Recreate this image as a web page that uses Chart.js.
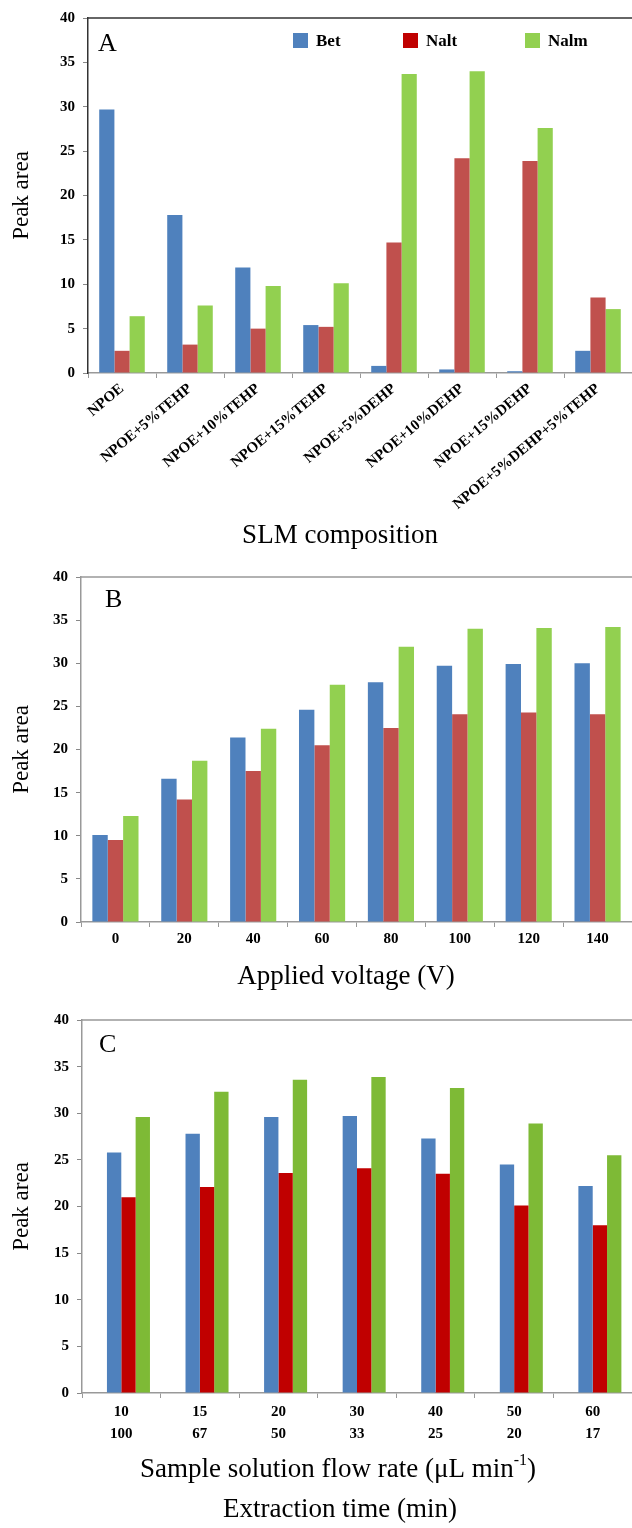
<!DOCTYPE html>
<html>
<head>
<meta charset="utf-8">
<script src="https://cdn.jsdelivr.net/npm/chart.js@4.4.1/dist/chart.umd.min.js"></script>
<style>
  body { margin: 0; background: #fff; }
  canvas { position: absolute; left: 0; }
</style>
</head>
<body>
<canvas id="panelA" width="632" height="560" style="top:0px"></canvas>
<canvas id="panelB" width="632" height="440" style="top:560px"></canvas>
<canvas id="panelC" width="632" height="528" style="top:1000px"></canvas>
<script>
// panel A - SLM composition
const slmGroups = ['NPOE', 'NPOE+5%TEHP', 'NPOE+10%TEHP', 'NPOE+15%TEHP', 'NPOE+5%DEHP', 'NPOE+10%DEHP', 'NPOE+15%DEHP', 'NPOE+5%DEHP+5%TEHP']
const betA = [29.7, 17.8, 11.9, 5.4, 0.8, 0.4, 0.2, 2.5]
const naltA = [2.5, 3.2, 5.0, 5.2, 14.7, 24.2, 23.9, 8.5]
const nalmA = [6.4, 7.6, 9.8, 10.1, 33.7, 34.0, 27.6, 7.2]

// panel B - applied voltage
const voltages = ['0', '20', '40', '60', '80', '100', '120', '140']
const betB = [10.1, 16.6, 21.4, 24.6, 27.8, 29.7, 29.9, 30.0]
const naltB = [9.5, 14.2, 17.5, 20.5, 22.5, 24.1, 24.3, 24.1]
const nalmB = [12.3, 18.7, 22.4, 27.5, 31.9, 34.0, 34.1, 34.2]

// panel C - flow rate / extraction time
const flowRates = ['10', '15', '20', '30', '40', '50', '60']
const extractTimes = ['100', '67', '50', '33', '25', '20', '17']
const betC = [25.8, 27.8, 29.6, 29.7, 27.3, 24.5, 22.2]
const naltC = [21.0, 22.1, 23.6, 24.1, 23.5, 20.1, 18.0]
const nalmC = [29.6, 32.3, 33.6, 33.9, 32.7, 28.9, 25.5]

const seriesNames = ['Bet', 'Nalt', 'Nalm']

const serif = '"Liberation Serif", "Times New Roman", serif'
Chart.defaults.font.family = serif
Chart.defaults.color = '#000'

const blue = '#4f81bd'
const paleRed = '#c0504d'
const deepRed = '#c00000'
const lightGreen = '#92d050'
const grassGreen = '#7eba36'

function drawTitle(ctx, t) {
  const main = '27px ' + serif
  const small = '16px ' + serif
  let total = 0
  t.parts.forEach(p => {
    ctx.font = p.sup ? small : main
    total += ctx.measureText(p.text).width
  })
  let x = t.x - total / 2
  ctx.textAlign = 'left'
  ctx.textBaseline = 'middle'
  t.parts.forEach(p => {
    ctx.font = p.sup ? small : main
    ctx.fillText(p.text, x, p.sup ? t.y - 9 : t.y)
    x += ctx.measureText(p.text).width
  })
}

const panelDecor = {
  id: 'panelDecor',
  afterDraw(chart, args, opts) {
    const ctx = chart.ctx
    const area = chart.chartArea
    ctx.save()
    ctx.strokeStyle = opts.frameColor
    ctx.lineWidth = 1.5
    ctx.beginPath()
    ctx.moveTo(area.left, area.top)
    ctx.lineTo(area.right, area.top)
    ctx.stroke()

    ctx.fillStyle = '#000'
    ctx.font = '26px ' + serif
    ctx.textAlign = 'left'
    ctx.textBaseline = 'alphabetic'
    ctx.fillText(opts.letter, opts.letterX, opts.letterY)

    opts.titles.forEach(t => drawTitle(ctx, t))

    if (opts.legendX) {
      ctx.textAlign = 'left'
      ctx.textBaseline = 'alphabetic'
      ctx.font = 'bold 17px ' + serif
      opts.legendX.forEach((x, i) => {
        ctx.fillStyle = opts.legendColors[i]
        ctx.fillRect(x, opts.legendY - 13, 15, 15)
        ctx.fillStyle = '#000'
        ctx.fillText(chart.data.datasets[i].label, x + 23, opts.legendY)
      })
    }
    ctx.restore()
  },
}

function yAxis(width, borderColor) {
  return {
    min: 0,
    max: 40,
    ticks: { stepSize: 5, padding: 8, font: { size: 15, weight: 'bold' } },
    grid: { drawOnChartArea: false, tickLength: 5, color: '#888' },
    border: { color: borderColor, width: 1.5 },
    title: { display: true, text: 'Peak area', font: { size: 23 }, padding: { top: 8, bottom: 0 } },
    afterFit: scale => { scale.width = width },
  }
}

function xAxis(height, ticks) {
  return {
    ticks: Object.assign({ autoSkip: false, font: { size: 15, weight: 'bold' } }, ticks),
    grid: { drawOnChartArea: false, tickLength: 5, color: '#999', offset: true },
    border: { color: '#999', width: 1.5 },
    afterFit: scale => {
      scale.height = height
      scale.paddingLeft = 0
      scale.paddingRight = 0
    },
  }
}

const groupAB = { borderWidth: 0, categoryPercentage: 0.67, barPercentage: 1.0 }
const groupC = { borderWidth: 0, categoryPercentage: 0.73, barPercentage: 1.0 }

const configA = {
  type: 'bar',
  data: {
    labels: slmGroups,
    datasets: [
      Object.assign({ label: seriesNames[0], data: betA, backgroundColor: blue }, groupAB),
      Object.assign({ label: seriesNames[1], data: naltA, backgroundColor: paleRed }, groupAB),
      Object.assign({ label: seriesNames[2], data: nalmA, backgroundColor: lightGreen }, groupAB),
    ],
  },
  options: {
    responsive: false,
    animation: false,
    layout: { padding: { top: 18, right: 0, bottom: 0, left: 0 } },
    plugins: {
      legend: { display: false },
      tooltip: { enabled: false },
      panelDecor: {
        frameColor: '#333',
        letter: 'A', letterX: 98, letterY: 51,
        titles: [{ x: 340, y: 536, parts: [{ text: 'SLM composition' }] }],
        legendX: [293, 403, 525], legendY: 46,
        legendColors: [blue, deepRed, lightGreen],
      },
    },
    scales: {
      x: xAxis(187, { minRotation: 40, maxRotation: 40, padding: 2 }),
      y: yAxis(88, '#333'),
    },
  },
  plugins: [panelDecor],
}

const configB = {
  type: 'bar',
  data: {
    labels: voltages,
    datasets: [
      Object.assign({ label: seriesNames[0], data: betB, backgroundColor: blue }, groupAB),
      Object.assign({ label: seriesNames[1], data: naltB, backgroundColor: paleRed }, groupAB),
      Object.assign({ label: seriesNames[2], data: nalmB, backgroundColor: lightGreen }, groupAB),
    ],
  },
  options: {
    responsive: false,
    animation: false,
    layout: { padding: { top: 17, right: 0, bottom: 0, left: 0 } },
    plugins: {
      legend: { display: false },
      tooltip: { enabled: false },
      panelDecor: {
        frameColor: '#999',
        letter: 'B', letterX: 105, letterY: 47,
        titles: [{ x: 346, y: 417, parts: [{ text: 'Applied voltage (V)' }] }],
      },
    },
    scales: {
      x: xAxis(78, { padding: 3 }),
      y: yAxis(81, '#999'),
    },
  },
  plugins: [panelDecor],
}

// first (empty) slot keeps the three bars right of the category centre, as in the figure
const configC = {
  type: 'bar',
  data: {
    labels: flowRates.map((f, i) => [f, extractTimes[i]]),
    datasets: [
      Object.assign({ label: '', data: flowRates.map(() => null), backgroundColor: 'rgba(0,0,0,0)' }, groupC),
      Object.assign({ label: seriesNames[0], data: betC, backgroundColor: blue }, groupC),
      Object.assign({ label: seriesNames[1], data: naltC, backgroundColor: deepRed }, groupC),
      Object.assign({ label: seriesNames[2], data: nalmC, backgroundColor: grassGreen }, groupC),
    ],
  },
  options: {
    responsive: false,
    animation: false,
    layout: { padding: { top: 20, right: 0, bottom: 0, left: 0 } },
    plugins: {
      legend: { display: false },
      tooltip: { enabled: false },
      panelDecor: {
        frameColor: '#999',
        letter: 'C', letterX: 99, letterY: 52,
        titles: [
          { x: 338, y: 470, parts: [{ text: 'Sample solution flow rate (\u03bcL min' }, { text: '-1', sup: true }, { text: ')' }] },
          { x: 340, y: 510, parts: [{ text: 'Extraction time (min)' }] },
        ],
      },
    },
    scales: {
      x: xAxis(135, { padding: 3, font: { size: 15, weight: 'bold', lineHeight: 1.47 } }),
      y: yAxis(82, '#999'),
    },
  },
  plugins: [panelDecor],
}

const chartA = new Chart(document.getElementById('panelA'), configA)
const chartB = new Chart(document.getElementById('panelB'), configB)
const chartC = new Chart(document.getElementById('panelC'), configC)
</script>
</body>
</html>
